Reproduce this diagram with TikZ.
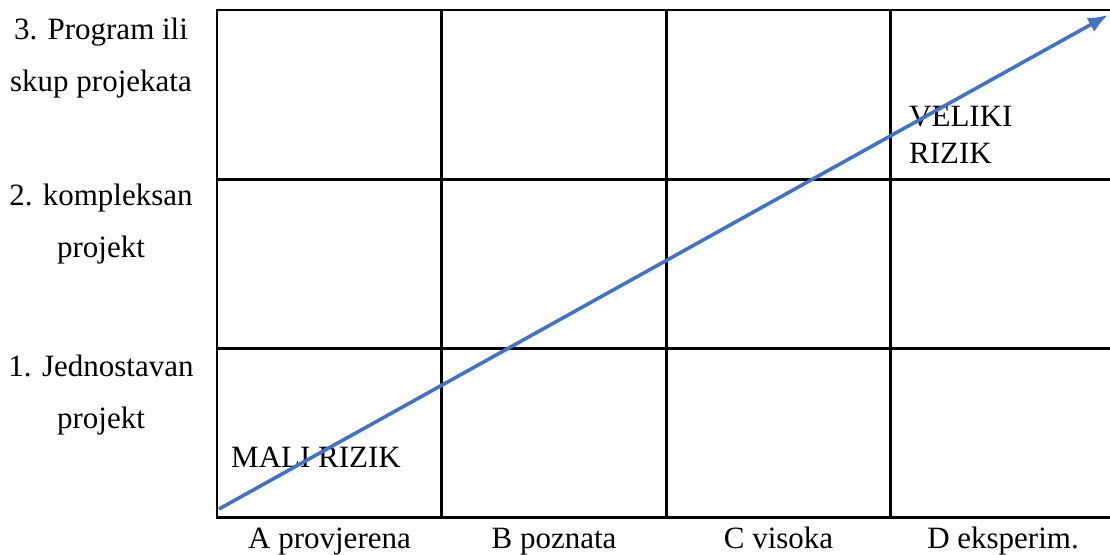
\documentclass[tikz,border=0pt]{standalone}
\usepackage{fontspec}
\setmainfont{Liberation Serif}
\definecolor{riskblue}{HTML}{4472C4}
\usetikzlibrary{arrows.meta, positioning}

\begin{document}
\begin{tikzpicture}[x=1pt, y=-1pt,
    cell/.style={draw, line width=2.6pt, minimum width=225pt, minimum height=169pt,
                 inner sep=0pt, outer sep=0pt},
    lbl/.style={font=\fontsize{31}{52}\selectfont, align=center, inner sep=0pt},
    risk/.style={font=\fontsize{31}{36}\selectfont, align=left, inner sep=0pt, anchor=north west}
  ]
    \useasboundingbox (0,0) rectangle (1110,554);
    \clip (0,0) rectangle (1110,554);

    % grid
    \foreach \c/\x in {a/0,b/1,c/2,d/3}
      \foreach \r/\y in {1/2,2/1,3/0}
        \node[cell, anchor=north west] (\c\r) at (217+224.5*\x, 10+169.2*\y) {};

    % row labels
    \node[lbl] (r3) at (101,58) {3. Program ili\\skup projekata};
    \node[lbl] (r2) at (101,224) {2. kompleksan\\projekt};
    \node[lbl] (r1) at (101,395) {1. Jednostavan\\projekt};

    % column labels
    \node[lbl, anchor=base] (ca) at (a1.south |- 0,548) {A provjerena};
    \node[lbl, anchor=base] (cb) at (b1.south |- 0,548) {B poznata};
    \node[lbl, anchor=base] (cc) at (c1.south |- 0,548) {C visoka};
    \node[lbl, anchor=base] (cd) at (d1.south |- 0,548) {D eksperim.};

    \node[risk] (mali) at (231,446.5) {MALI RIZIK};
    \node[risk] (veliki) at (909,106.5) {VELIKI\\RIZIK};

    \coordinate (lo) at (219,509);
    \coordinate (hi) at (1108,15);
    \draw[-{Latex[length=20pt, width=16pt]}, riskblue, line width=3.6pt] (lo) -- (hi);
  \end{tikzpicture}
\end{document}
